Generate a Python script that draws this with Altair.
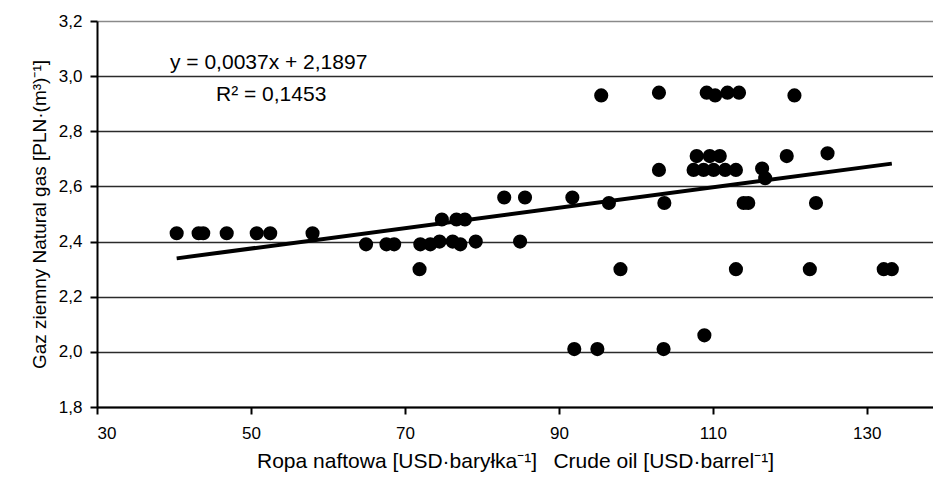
import altair as alt
import pandas as pd

# Crude oil price [USD/barrel] and natural gas price [PLN/m3]
oil = [
    40.35, 43.2, 43.8, 46.85, 50.75, 52.5, 58.0,
    64.95, 67.6, 68.6, 72.0, 73.3, 74.5, 76.2, 77.2, 79.2, 84.96,
    71.9, 98.0, 113.0, 122.6, 132.2, 133.25,
    74.8, 76.7, 77.8,
    82.9, 85.6, 91.75,
    96.5, 103.7, 114.0, 114.6, 123.4,
    92.0, 95.0, 103.6,
    108.9,
    95.5, 103.0, 109.2, 110.3, 111.9, 113.4, 120.6,
    103.0, 107.5, 108.8, 110.1, 111.6, 113.0, 116.4, 116.8,
    107.9, 109.6, 110.9, 119.6, 124.9,
]
gas = [
    2.43, 2.43, 2.43, 2.43, 2.43, 2.43, 2.43,
    2.39, 2.39, 2.39, 2.39, 2.39, 2.40, 2.40, 2.39, 2.40, 2.40,
    2.30, 2.30, 2.30, 2.30, 2.30, 2.30,
    2.48, 2.48, 2.48,
    2.56, 2.56, 2.56,
    2.54, 2.54, 2.54, 2.54, 2.54,
    2.01, 2.01, 2.01,
    2.06,
    2.93, 2.94, 2.94, 2.93, 2.94, 2.94, 2.93,
    2.66, 2.66, 2.66, 2.66, 2.66, 2.66, 2.665, 2.63,
    2.71, 2.71, 2.71, 2.71, 2.72,
]

# Linear trend y = a*x + b
slope = 0.0037
intercept = 2.1897
r_squared = 0.1453

x_ticks = [30, 50, 70, 90, 110, 130]
y_ticks = [1.8, 2.0, 2.2, 2.4, 2.6, 2.8, 3.0, 3.2]

df = pd.DataFrame({"oil": oil, "gas": gas})
x_lo, x_hi = min(oil), max(oil)
trend = pd.DataFrame({
    "oil": [x_lo, x_hi],
    "gas": [slope * x_lo + intercept, slope * x_hi + intercept],
})

FONT = "Liberation Sans"
W, H = 836, 386

x_scale = alt.Scale(domain=[30, 138.6], nice=False, zero=False)
y_scale = alt.Scale(domain=[1.8, 3.2], nice=False, zero=False)

x_axis = alt.Axis(
    values=x_ticks,
    title="Ropa naftowa [USD·baryłka⁻¹]\u2002 Crude oil [USD·barrel⁻¹]",
    labelExpr="replace(format(datum.value, 'd'), '.', ',')",
    grid=False,
    domainColor="black", domainWidth=2,
    tickColor="black", tickWidth=2, tickSize=7,
    labelFont=FONT, labelFontSize=17, labelColor="black", labelPadding=11,
    titleFont=FONT, titleFontSize=21, titleFontWeight="normal",
    titleColor="black", titlePadding=9,
)
y_axis = alt.Axis(
    values=y_ticks,
    title="Gaz ziemny Natural gas [PLN·(m³)⁻¹]",
    labelExpr="replace(format(datum.value, '.1f'), '.', ',')",
    grid=True,
    gridColor={"condition": {"test": "datum.value >= 3.19", "value": "#8a8a8a"},
               "value": "#2b2b2b"},
    gridWidth=1.5,
    domainColor="black", domainWidth=2,
    tickColor="black", tickWidth=2, tickSize=7,
    labelFont=FONT, labelFontSize=17, labelColor="black", labelPadding=8,
    titleFont=FONT, titleFontSize=19, titleFontWeight="normal",
    titleColor="black", titlePadding=9,
)

points = alt.Chart(df).mark_circle(size=200, color="black", opacity=1).encode(
    x=alt.X("oil:Q", scale=x_scale, axis=x_axis),
    y=alt.Y("gas:Q", scale=y_scale, axis=y_axis),
)

line = alt.Chart(trend).mark_line(color="black", strokeWidth=4).encode(
    x=alt.X("oil:Q", scale=x_scale),
    y=alt.Y("gas:Q", scale=y_scale),
)

eq_text = "y = {:.4f}x + {:.4f}".format(slope, intercept).replace(".", ",")
r2_text = "R² = {:.4f}".format(r_squared).replace(".", ",")

eq = alt.Chart(pd.DataFrame({"t": [eq_text]})).mark_text(
    font=FONT, fontSize=21, color="black", align="left", baseline="middle"
).encode(x=alt.value(73), y=alt.value(42), text="t:N")

r2 = alt.Chart(pd.DataFrame({"t": [r2_text]})).mark_text(
    font=FONT, fontSize=21, color="black", align="left", baseline="middle"
).encode(x=alt.value(119), y=alt.value(74), text="t:N")

chart = (
    alt.layer(points, line, eq, r2)
    .properties(
        width=W,
        height=H,
        autosize=alt.AutoSizeParams(type="none"),
        padding={"left": 97, "top": 21, "right": 0, "bottom": 77},
        background="white",
    )
    .configure_view(stroke=None)
)

chart.save("out.html", embed_options={"renderer": "svg", "actions": False})
